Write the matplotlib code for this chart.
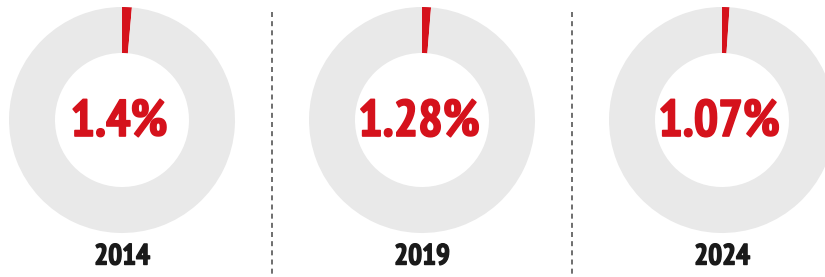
import matplotlib.pyplot as plt
import matplotlib.patheffects as pe
from matplotlib import font_manager

years = ["2014", "2019", "2024"]
shares = [1.4, 1.28, 1.07]
labels = ["1.4%", "1.28%", "1.07%"]

RED = "#d5121c"
GRAY = "#e9e9e9"

names = {f.name for f in font_manager.fontManager.ttflist}
FONT = "DejaVu Sans"
for c in ["PT Sans Narrow", "Fjalla One", "Roboto Condensed"]:
    if c in names:
        FONT = c
        break

fig = plt.figure(figsize=(8.25, 2.77), dpi=100)
ax = fig.add_axes([0, 0, 1, 1])

centers_x = [122, 422, 722]
cy = 277 - 120
for cx, yr, val, lab in zip(centers_x, years, shares, labels):
    ax.pie([val, 100 - val], colors=[RED, GRAY], startangle=90, counterclock=False,
           radius=113, center=(cx, cy), wedgeprops=dict(width=46, linewidth=0))
    ax.text(cx - 3, 277 - 123.5, lab, ha="center", va="center", color=RED,
            fontsize=37, fontweight="bold", family=FONT,
            path_effects=[pe.withStroke(linewidth=1.2, foreground=RED)])
    ax.text(cx, 277 - 257.5, yr, ha="center", va="center", color="#1a1a1a",
            fontsize=21, fontweight="bold", family=FONT,
            path_effects=[pe.withStroke(linewidth=1, foreground="#1a1a1a")])

for x in [272, 572]:
    ax.plot([x, x], [277 - 12, 277 - 275], color="#555555", lw=1.2,
            dashes=(3, 2.5))

ax.set_xlim(0, 825)
ax.set_ylim(0, 277)
ax.set_aspect("auto")
ax.axis("off")

fig.savefig("out.png", dpi=100)
